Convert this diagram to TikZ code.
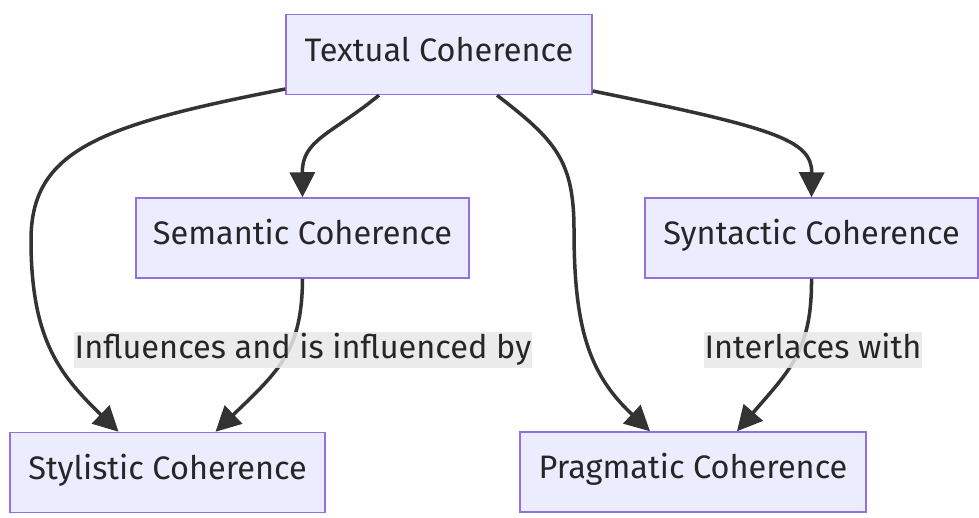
\documentclass[tikz,border=0pt]{standalone}
\usepackage{fontspec}
\setmainfont{Fira Sans}
\usetikzlibrary{arrows.meta}
\definecolor{boxfill}{HTML}{ECECFF}
\definecolor{boxline}{HTML}{9370DB}
\definecolor{edgeline}{HTML}{333333}
\definecolor{labelbg}{HTML}{E8E8E8}

\begin{document}
\begin{tikzpicture}[x = 1pt, y = -1pt, font = \fontsize{32.5}{38}\selectfont]
\tikzstyle{boxStyle} = [shape = rectangle, draw = boxline, fill = boxfill, line width = 1.5pt, minimum height = 80pt, text height = 24pt, text depth = 11pt, text = black!85]
\tikzstyle{edgeStyle} = [draw = edgeline, line width = 3.5pt, -{Triangle[length = 25pt, width = 25pt]}]
\tikzstyle{labelStyle} = [fill = labelbg, fill opacity = 0.85, text opacity = 1, text = black!85, inner xsep = 1pt, inner ysep = 1pt, text height = 25pt, text depth = 9pt]
\useasboundingbox (0,0) rectangle (979,517);
\node[boxStyle, minimum width = 306pt] (txt) at (439,54.5) {Textual Coherence};
\node[boxStyle, minimum width = 333pt] (sem) at (302.5,238) {Semantic Coherence};
\node[boxStyle, minimum width = 333pt] (syn) at (811.5,238) {Syntactic Coherence};
\node[boxStyle, minimum width = 315pt] (sty) at (167.5,472.5) {Stylistic Coherence};
\node[boxStyle, minimum width = 346pt] (prag) at (693,472) {Pragmatic Coherence};
\draw[edgeStyle] ([xshift = -60pt]txt.south) .. controls (330,135) and (302,140) .. (sem.north);
\draw[edgeStyle] ([yshift = -34.5pt]txt.west) .. controls (100,125) and (31,150) .. (31,240) .. controls (31,340) and (60,375) .. ([xshift = -49pt]sty.north);
\draw[edgeStyle] ([xshift = 58pt]txt.south) .. controls (555,140) and (574,160) .. (574,230) .. controls (574,330) and (590,375) .. ([xshift = -43pt]prag.north);
\draw[edgeStyle] ([yshift = -36.5pt]txt.east) .. controls (775,128) and (812,140) .. (syn.north);
\draw[edgeStyle] (sem.south) .. controls (302,350) and (280,370) .. ([xshift = 48pt]sty.north);
\draw[edgeStyle] (syn.south) .. controls (812,350) and (790,370) .. ([xshift = 44pt]prag.north);
\node[labelStyle] (lblsem) at (303,350) {Influences and is influenced by};
\node[labelStyle] (lblsyn) at (813,350) {Interlaces with};
\end{tikzpicture}
\end{document}
